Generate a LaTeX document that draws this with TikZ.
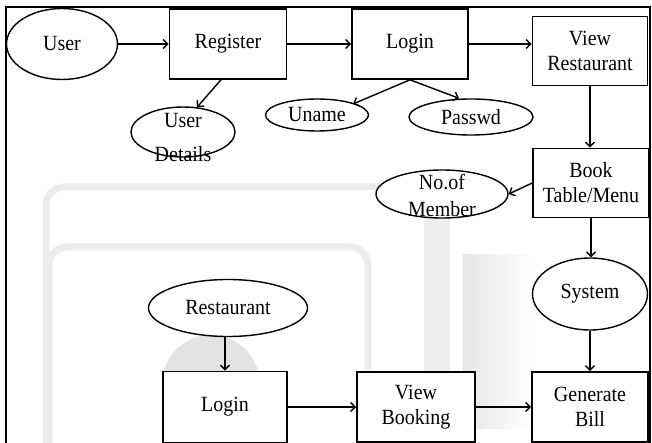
\documentclass[tikz,border=0pt]{standalone}
\usepackage{fontspec}
\setmainfont{Liberation Serif}[FakeStretch=0.92]
\usetikzlibrary{arrows.meta,shapes.geometric,calc}
\begin{document}
\begin{tikzpicture}[x=1pt,y=-1pt,
  every node/.style={font=\fontsize{21.7}{25}\selectfont, inner sep=0pt},
  procbox/.style={draw, fill=white, line width=1.6pt, rectangle, align=center},
  ent/.style={draw, fill=white, line width=1.4pt, ellipse},
  conn/.style={line width=1.4pt, -{Straight Barb[length=4.5pt,width=9pt]}},
  wm/.style={gray!15, line width=7pt, rounded corners=18pt},
  frameline/.style={line width=1.5pt}]
\useasboundingbox (0,0) rectangle (652,443);
% faint watermark behind the diagram
\draw[wm] (46,446) -- (46,187) -- (380,187);
\draw[wm] (49,446) -- (49,247) -- (368,247) -- (368,446);
\fill[gray!13] (424,215) rectangle (450,443);
\shade[left color=gray!20, right color=white] (463,255) rectangle (533,428);
\fill[gray!22] (211,384) circle[radius=49pt];
% frame
\draw[frameline] (6,446) -- (6,7) -- (650,7) -- (650,446);
% nodes
\node[ent, minimum width=111pt, minimum height=71pt] (user) at (62,44) {User};
\node[procbox, minimum width=117pt, minimum height=70pt] (reg) at (228,44) {Register};
\node[procbox, minimum width=116pt, minimum height=70pt] (loginA) at (410,44) {Login};
\node[procbox, minimum width=115pt, minimum height=69pt] (vr) at (590,51) {View\\Restaurant};
\node[ent, minimum width=104pt, minimum height=50pt,
  label={[align=center, yshift=-5.5pt]center:User\\[9pt]Details}] (ud) at (183,132) {};
\node[ent, minimum width=103pt, minimum height=32pt] (uname) at (317,115) {Uname};
\node[ent, minimum width=124pt, minimum height=36pt] (pw) at (471,117) {Passwd};
\node[procbox, minimum width=116pt, minimum height=69pt] (book) at (591,183) {Book\\Table/Menu};
\node[ent, minimum width=132pt, minimum height=48pt,
  label={[align=center, yshift=-1.5pt]center:No.of\\[2pt]Member}] (nom) at (442,194) {};
\node[ent, minimum width=115pt, minimum height=72pt] (sys) at (590,294) {System};
\node[ent, minimum width=159pt, minimum height=57pt] (rest) at (228,308) {Restaurant};
\node[procbox, minimum width=124pt, minimum height=71pt] (loginB) at (225,407) {Login};
\node[procbox, minimum width=118pt, minimum height=70pt] (vb) at (416,407) {View\\Booking};
\node[procbox, minimum width=116pt, minimum height=70pt] (gb) at (590,407) {Generate\\Bill};
% connectors
\draw[conn] (user.east) -- (reg.west);
\draw[conn] (reg.east) -- (loginA.west);
\draw[conn] (loginA.east) -- (loginA.east -| vr.west);
\draw[conn] ($(reg.south)+(-7,0)$) -- ($(ud.north)+(14,1)$);
\draw[conn] (loginA.south) -- ($(uname.center)+(36,-11)$);
\draw[conn] (loginA.south) -- ($(pw.north)+(-12,0)$);
\draw[conn] (vr.south) -- (vr.south |- book.north);
\draw[conn] (book.west) -- (nom.east);
\draw[conn] (book.south) -- (book.south |- sys.north);
\draw[conn] (sys.south) -- (sys.south |- gb.north);
\draw[conn] (loginB.north |- rest.south) -- (loginB.north);
\draw[conn] (loginB.east) -- (vb.west);
\draw[conn] (vb.east) -- (gb.west);
\end{tikzpicture}
\end{document}
